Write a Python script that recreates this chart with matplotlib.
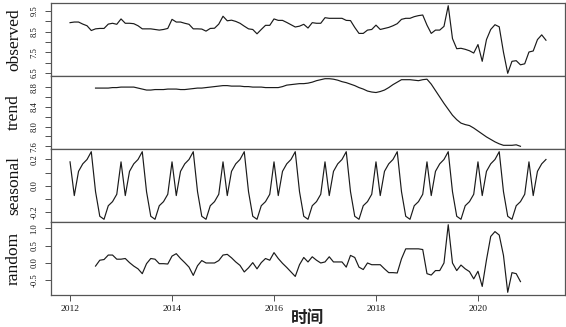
import numpy as np
import matplotlib
matplotlib.use("Agg")
import matplotlib.pyplot as plt

plt.rcParams['font.family'] = ['Liberation Serif', 'DejaVu Serif']

# ── data: monthly series, Jan 2012 – May 2021 ───────────────────────────────
START = 2012.0
observed = [
    8.93, 8.96, 8.96, 8.86, 8.78, 8.55, 8.63, 8.65, 8.65, 8.86, 8.90, 8.85,   # 2012
    9.11, 8.90, 8.90, 8.88, 8.78, 8.63, 8.63, 8.63, 8.60, 8.57, 8.60, 8.65,   # 2013
    9.09, 8.96, 8.96, 8.90, 8.85, 8.63, 8.63, 8.62, 8.52, 8.65, 8.66, 8.86,   # 2014
    9.24, 9.02, 9.05, 8.99, 8.90, 8.76, 8.63, 8.60, 8.39, 8.60, 8.80, 8.80,   # 2015
    9.11, 9.04, 9.04, 8.94, 8.83, 8.72, 8.76, 8.85, 8.67, 8.93, 8.90, 8.90,   # 2016
    9.17, 9.14, 9.14, 9.14, 9.14, 9.04, 9.03, 8.70, 8.41, 8.41, 8.57, 8.60,   # 2017
    8.81, 8.60, 8.65, 8.70, 8.78, 8.88, 9.09, 9.14, 9.14, 9.22, 9.27, 9.30,   # 2018
    8.81, 8.41, 8.57, 8.57, 8.75, 9.75, 8.16, 7.67, 7.69, 7.64, 7.57, 7.46,   # 2019
    7.87, 7.06, 8.11, 8.60, 8.83, 8.73, 7.50, 6.48, 7.06, 7.09, 6.89, 6.94,   # 2020
    7.51, 7.56, 8.11, 8.34, 8.08,                                             # 2021
]

# trend and random: Jul 2012 – Nov 2020
TREND_START = 2012.5
trend = [
    8.78, 8.78, 8.78, 8.78, 8.79, 8.79,                                       # 2012
    8.80, 8.80, 8.80, 8.80, 8.78, 8.76, 8.74, 8.74, 8.75, 8.75, 8.75, 8.76,   # 2013
    8.76, 8.76, 8.75, 8.75, 8.76, 8.77, 8.78, 8.78, 8.79, 8.80, 8.81, 8.82,   # 2014
    8.83, 8.83, 8.82, 8.82, 8.82, 8.81, 8.81, 8.80, 8.80, 8.80, 8.79, 8.79,   # 2015
    8.79, 8.79, 8.81, 8.84, 8.85, 8.86, 8.87, 8.87, 8.88, 8.90, 8.93, 8.95,   # 2016
    8.97, 8.97, 8.96, 8.94, 8.91, 8.89, 8.86, 8.83, 8.79, 8.76, 8.72, 8.70,   # 2017
    8.69, 8.71, 8.74, 8.79, 8.85, 8.90, 8.95, 8.95, 8.95, 8.94, 8.93, 8.95,   # 2018
    8.96, 8.86, 8.73, 8.60, 8.47, 8.35, 8.23, 8.14, 8.07, 8.04, 8.02, 7.97,   # 2019
    7.91, 7.85, 7.79, 7.74, 7.69, 7.65, 7.62, 7.62, 7.62, 7.63, 7.60,         # 2020
]
random = [
    -0.09, 0.08, 0.10, 0.23, 0.23, 0.11,                                      # 2012
    0.11, 0.13, 0.01, -0.09, -0.17, -0.31, -0.02, 0.13, 0.11, -0.02, -0.02, -0.03,  # 2013
    0.20, 0.27, 0.13, 0.01, -0.12, -0.36, -0.08, 0.07, 0.00, 0.00, 0.00, 0.07,      # 2014
    0.23, 0.25, 0.15, 0.03, -0.07, -0.26, -0.14, 0.01, -0.17, 0.01, 0.13, 0.08,     # 2015
    0.30, 0.13, -0.01, -0.13, -0.26, -0.39, -0.05, 0.16, 0.03, 0.18, 0.08, 0.00,    # 2016
    0.03, 0.18, 0.03, 0.03, 0.03, -0.12, 0.22, 0.16, -0.12, -0.19, 0.00, -0.05,     # 2017
    -0.05, -0.05, -0.17, -0.28, -0.28, -0.29, 0.12, 0.41, 0.41, 0.41, 0.41, 0.39,   # 2018
    -0.31, -0.35, -0.22, -0.22, 0.00, 1.11, 0.00, -0.22, -0.06, -0.17, -0.25, -0.46,  # 2019
    -0.24, -0.68, 0.09, 0.77, 0.91, 0.81, 0.22, -0.85, -0.28, -0.31, -0.54,         # 2020
]

# seasonal figure, Jan..Dec
seasonal_month = [0.182, -0.074, 0.110, 0.167, 0.200, 0.259,
                  -0.044, -0.231, -0.254, -0.151, -0.120, -0.064]

panel_names = ["observed", "trend", "seasonal", "random"]
panel_ticks = [
    [6.5, 7.0, 7.5, 8.0, 8.5, 9.0, 9.5],
    [7.6, 7.8, 8.0, 8.2, 8.4, 8.6, 8.8],
    [-0.2, -0.1, 0.0, 0.1, 0.2],
    [-0.5, 0.0, 0.5, 1.0],
]
panel_labels = [
    ["6.5", "", "7.5", "", "8.5", "", "9.5"],
    ["7.6", "", "8.0", "", "8.4", "", "8.8"],
    ["-0.2", "", "0.0", "", "0.2"],
    ["-0.5", "0.0", "0.5", "1.0"],
]
year_ticks = [2012, 2014, 2016, 2018, 2020]

# ── build series ────────────────────────────────────────────────────────────
t_obs = START + np.arange(len(observed)) / 12
t_tr = TREND_START + np.arange(len(trend)) / 12
seasonal = np.resize(seasonal_month, len(observed))
series = [(t_obs, observed), (t_tr, trend), (t_obs, seasonal), (t_tr, random)]

W, H = 566, 327
fig = plt.figure(figsize=(W / 100, H / 100), dpi=100)

left, right = 51, 565
tops = [3, 76, 149, 222]
ph = 73
xspan = t_obs[-1] - t_obs[0]
xlim = (t_obs[0] - 0.04 * xspan, t_obs[-1] + 0.04 * xspan)

line_col = "#1a1a1a"
box_col = "#555555"

for k, (name, (tx, vals)) in enumerate(zip(panel_names, series)):
    ax = fig.add_axes([left / W, 1 - (tops[k] + ph) / H, (right - left) / W, ph / H])
    ax.plot(tx, vals, color=line_col, lw=0.85)
    lo, hi = min(vals), max(vals)
    ax.set_xlim(*xlim)
    ax.set_ylim(lo - 0.04 * (hi - lo), hi + 0.04 * (hi - lo))
    ax.set_yticks(panel_ticks[k])
    ax.set_yticklabels(panel_labels[k], rotation=90, va="center", fontsize=6.2)
    ax.tick_params(axis="y", length=4, width=0.6, pad=5, colors="#333333",
                   labelcolor="#111111")
    for s in ax.spines.values():
        s.set_color(box_col)
        s.set_linewidth(0.9)
    if k < 3:
        ax.tick_params(axis="x", bottom=False, labelbottom=False)
    else:
        ax.set_xticks(year_ticks)
        ax.set_xticklabels([str(y) for y in year_ticks], fontsize=6.8)
        ax.tick_params(axis="x", length=4, width=0.6, pad=3, colors="#333333",
                       labelcolor="#111111")
    fig.text(14 / W, 1 - (tops[k] + ph / 2) / H, name, rotation=90,
             ha="center", va="center", fontsize=12.5, color="#111111")

fig.text((left + right) / 2 / W, 1 - 318 / H, "时间", ha="center", va="center",
         fontsize=12, fontweight="bold", family=["Noto Sans CJK SC", "DejaVu Sans"],
         color="#222222")

fig.savefig("out.png", dpi=100)
